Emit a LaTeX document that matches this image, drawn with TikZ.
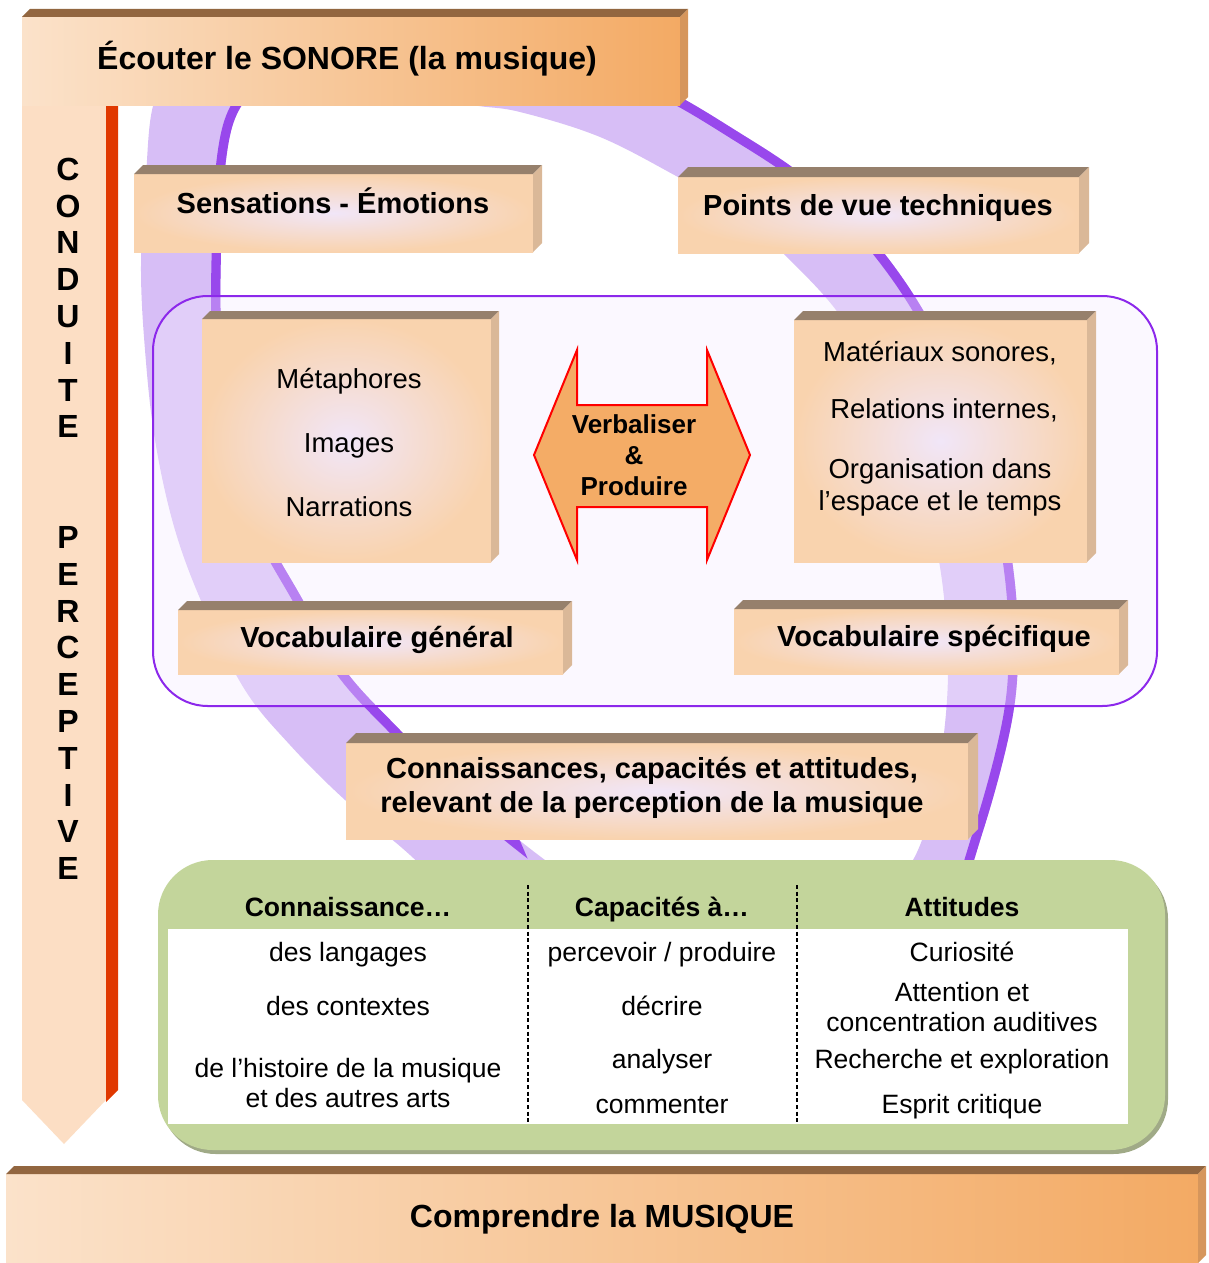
\documentclass[tikz,border=0pt]{standalone}
\usepackage{fontspec}
\setmainfont{Liberation Sans}

\definecolor{peachface}{RGB}{249,211,174}
\definecolor{glowface}{RGB}{241,230,248}
\definecolor{boxtopc}{RGB}{150,128,108}
\definecolor{boxsidec}{RGB}{218,184,152}
\definecolor{bannerL}{RGB}{251,226,202}
\definecolor{bannerR}{RGB}{243,170,100}
\definecolor{bannertopc}{RGB}{146,102,64}
\definecolor{bannersidec}{RGB}{214,150,92}
\definecolor{arrowlight}{RGB}{252,222,196}
\definecolor{arrowred}{RGB}{255,68,22}
\definecolor{arrowside}{RGB}{224,56,0}
\definecolor{ringlight}{RGB}{215,190,246}
\definecolor{ringdark}{RGB}{152,72,236}
\definecolor{framec}{RGB}{140,40,235}
\definecolor{framefill}{RGB}{244,236,255}
\definecolor{greenc}{RGB}{195,213,155}
\definecolor{greenshadow}{RGB}{160,170,135}
\definecolor{dblfill}{RGB}{244,172,102}

\tikzset{every picture/.style={line width=0.75pt}}
\tikzset{
  peach front/.style={inner color=glowface, outer color=peachface},
  peach top/.style={fill=boxtopc},
  peach side/.style={fill=boxsidec},
  banner front/.style={left color=bannerL, right color=bannerR},
  banner top/.style={fill=bannertopc},
  banner side/.style={fill=bannersidec},
  ringfill/.style={fill=ringlight},
  ringedge/.style={draw=ringdark},
  roundframe/.style={draw=framec, line width=1.5pt, fill=framefill, fill opacity=0.35, rounded corners=41pt},
  greenbox/.style={fill=greenc, rounded corners=41pt},
  dblarrow/.style={draw=red, line width=1.5pt, fill=dblfill, line join=miter},
  sepline/.style={draw=black, line width=0.9pt, dash pattern=on 3pt off 2pt},
  bannertext/.style={font=\fontsize{24}{27.6}\selectfont\bfseries, text height=17.2pt, text depth=0pt, inner sep=0pt},
  titletext/.style={font=\fontsize{21.75}{25.5}\selectfont\bfseries, text height=15.7pt, text depth=0pt, inner sep=0pt},
  titleblock/.style={font=\fontsize{21.75}{25.5}\selectfont\bfseries, align=center, inner sep=0pt},
  bodytext/.style={font=\fontsize{20.6}{24}\selectfont, text height=14.8pt, text depth=0pt, inner sep=0pt},
  bodyblock/.style={font=\fontsize{20.6}{24}\selectfont, align=center, inner sep=0pt},
  tabtext/.style={font=\fontsize{19.9}{22.9}\selectfont, text height=14.3pt, text depth=0pt, inner sep=0pt},
  tabblock/.style={font=\fontsize{19.9}{22.9}\selectfont, align=center, inner sep=0pt},
  tabhead/.style={font=\fontsize{19.9}{22.9}\selectfont\bfseries, text height=14.3pt, text depth=0pt, inner sep=0pt},
  verbtext/.style={font=\fontsize{19.5}{23.25}\selectfont\bfseries, align=center, inner sep=0pt},
  vletters/.style={font=\fontsize{24}{27.6}\selectfont\bfseries, align=center, inner sep=0pt}
}

% 3D box: style, x1, y1, x2, y2, depth
\newcommand{\bevelbox}[6]{%
  \path[#1 front] (#2,#3) rectangle (#4,#5);
  \fill[#1 top] (#2,#3) -- (#2+#6,#3-#6) -- (#4+#6,#3-#6) -- (#4,#3) -- cycle;
  \fill[#1 side] (#4,#3) -- (#4+#6,#3-#6) -- (#4+#6,#5-#6) -- (#4,#5) -- cycle;}

% ring edges
\newcommand{\ringouter}{plot[smooth cycle,tension=0.6] coordinates {(175,60) (230,32) (300,22) (380,20) (460,26) (540,40) (620,66) (682,98) (735,130) (792,167) (845,210) (884,253) (923,310) (965,390) (995,480) (1012,560) (1018,640) (1012,720) (983,831) (945,930) (870,1010) (760,1045) (640,1035) (530,975) (460,905) (410,855) (345,800) (290,745) (245,690) (205,610) (175,530) (155,440) (145,350) (141,265) (146,175) (153,106)}}
\newcommand{\ringinner}{plot[smooth cycle,tension=0.6] coordinates {(265,90) (340,82) (420,92) (473,105) (520,112) (600,137) (678,177) (740,212) (783,253) (836,310) (875,375) (910,450) (935,540) (946,620) (947,700) (935,790) (913,860) (870,905) (790,935) (700,935) (620,910) (541,857) (460,790) (400,730) (345,670) (300,595) (260,520) (235,430) (222,340) (221,253) (226,160) (239,110)}}

\begin{document}
\begin{tikzpicture}[x=0.75pt,y=0.75pt,yscale=-1,xscale=1]
        \useasboundingbox (0,0) rectangle (1208,1263);

        %Ring
        \fill[ringfill, even odd rule] \ringouter \ringinner;
        \begin{scope}
          \clip (560,0) rectangle (1208,1263);
          \clip \ringouter;
          \draw[ringedge, line width=14pt] \ringouter;
        \end{scope}
        \begin{scope}[even odd rule]
          \clip (0,0) -- (460,0) -- (460,700) -- (700,1263) -- (0,1263) -- cycle;
          \clip (0,0) rectangle (1208,1263) \ringinner;
          \draw[ringedge, line width=14pt] \ringinner;
        \end{scope}

        %Rounded frame
        \draw[roundframe] (153,296) rectangle (1157,706);

        %Boxes
        \bevelbox{peach}{134}{174}{533}{252}{9}
        \bevelbox{peach}{678}{177}{1079}{253}{10}
        \bevelbox{peach}{202}{319}{491}{562}{8}
        \bevelbox{peach}{794}{320}{1087}{562}{9}
        \bevelbox{peach}{178}{610}{563}{674}{9}
        \bevelbox{peach}{734}{609}{1119}{674}{9}
        \bevelbox{peach}{346}{743}{968}{839}{10}

        %Double arrow
        \draw[dblarrow] (534,455) -- (577,350) -- (577,405) -- (707,405) -- (707,350) -- (750,455) -- (707,560) -- (707,507) -- (577,507) -- (577,560) -- cycle;

        %Green box and table
        \fill[greenshadow, rounded corners=41pt] (161,864) rectangle (1168,1154);
        \fill[greenbox] (158,860) rectangle (1165,1150);
        \fill[white] (168,929) rectangle (1128,1124);
        \draw[sepline] (528,885) -- (528,1124);
        \draw[sepline] (797,885) -- (797,1124);

        %Vertical arrow
        \shade[top color=arrowlight, middle color=arrowred, bottom color=arrowlight] (22,105) -- (106,105) -- (106,1100) -- (64,1144) -- (22,1100) -- cycle;
        \fill[arrowside] (106,105) -- (118,105) -- (118,1090) -- (106,1102) -- cycle;

        %Banners
        \bevelbox{banner}{22}{17}{680}{105}{8}
        \bevelbox{banner}{6}{1174}{1198}{1263}{8}

        % Text Node
        \node[bannertext] (ecouter) at (347,58) {Écouter le SONORE (la musique)};
        \node[bannertext] (comprendre) at (602,1216) {Comprendre la MUSIQUE};
        \node[vletters] (conduite) at (68,298) {C\\O\\N\\D\\U\\I\\T\\E};
        \node[vletters] (perceptive) at (68,703) {P\\E\\R\\C\\E\\P\\T\\I\\V\\E};
        \node[titletext] (sensations) at (333,203) {Sensations - Émotions};
        \node[titletext] (points) at (878,205) {Points de vue techniques};
        \node[bodytext] (metaphores) at (349,379) {Métaphores};
        \node[bodytext] (images) at (349,443) {Images};
        \node[bodytext] (narrations) at (349,507) {Narrations};
        \node[verbtext] (verbaliser) at (634,455) {Verbaliser\\\&\\Produire};
        \node[bodytext] (materiaux) at (940,352) {Matériaux sonores,};
        \node[bodytext] (relations) at (944,409) {Relations internes,};
        \node[bodyblock] (organisation) at (940,487) {Organisation dans\\l’espace et le temps};
        \node[titletext] (vocgen) at (377,637) {Vocabulaire général};
        \node[titletext] (vocspec) at (934,636) {Vocabulaire spécifique};
        \node[titleblock] (connaissances) at (652,788) {Connaissances, capacités et attitudes,\\relevant de la perception de la musique};

        % Table
        \node[tabhead] (hconn) at (348,907) {Connaissance…};
        \node[tabhead] (hcap) at (662,907) {Capacités à…};
        \node[tabhead] (hatt) at (962,907) {Attitudes};
        \node[tabtext] (langages) at (348,952) {des langages};
        \node[tabtext] (contextes) at (348,1006) {des contextes};
        \node[tabblock] (histoire) at (348,1083) {de l’histoire de la musique\\et des autres arts};
        \node[tabtext] (percevoir) at (662,952) {percevoir / produire};
        \node[tabtext] (decrire) at (662,1006) {décrire};
        \node[tabtext] (analyser) at (662,1059) {analyser};
        \node[tabtext] (commenter) at (662,1104) {commenter};
        \node[tabtext] (curiosite) at (962,952) {Curiosité};
        \node[tabblock] (attention) at (962,1007) {Attention et\\concentration auditives};
        \node[tabtext] (recherche) at (962,1059) {Recherche et exploration};
        \node[tabtext] (esprit) at (962,1104) {Esprit critique};
\end{tikzpicture}
\end{document}
